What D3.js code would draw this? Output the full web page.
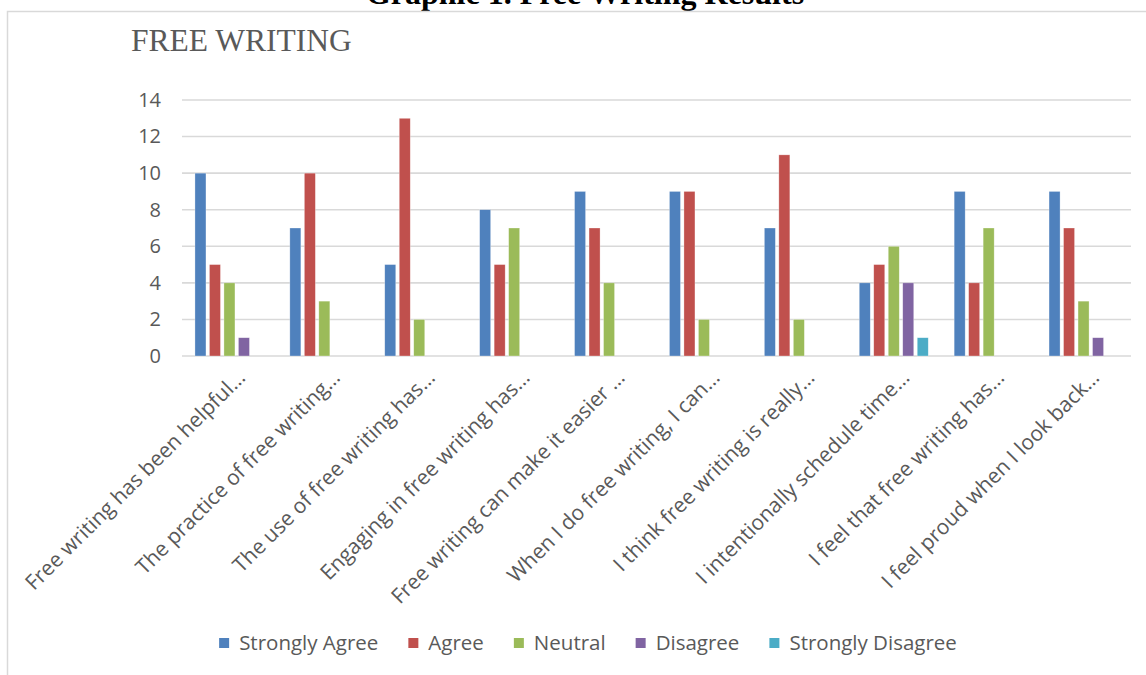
<!DOCTYPE html>
<html>
<head>
<meta charset="utf-8">
<script src="https://cdn.jsdelivr.net/npm/d3@7"></script>
<style>
  html, body { margin: 0; padding: 0; background: #fff; }
  svg { display: block; }
</style>
</head>
<body>
<svg id="chart" width="1146" height="675"></svg>
<script>
const categories = [
  "Free writing has been helpful…",
  "The practice of free writing…",
  "The use of free writing has…",
  "Engaging in free writing has…",
  "Free writing can make it easier …",
  "When I do free writing, I can…",
  "I think free writing is really…",
  "I intentionally schedule time…",
  "I feel that free writing has…",
  "I feel proud when I look back…"
];
const seriesNames = ["Strongly Agree", "Agree", "Neutral", "Disagree", "Strongly Disagree"];
const stronglyAgree    = [10, 7, 5, 8, 9, 9, 7, 4, 9, 9];
const agree            = [5, 10, 13, 5, 7, 9, 11, 5, 4, 7];
const neutral          = [4, 3, 2, 7, 4, 2, 2, 6, 7, 3];
const disagree         = [1, 0, 0, 0, 0, 0, 0, 4, 0, 1];
const stronglyDisagree = [0, 0, 0, 0, 0, 0, 0, 1, 0, 0];
const yTicks = [0, 2, 4, 6, 8, 10, 12, 14];
const colors = ["#4F81BD", "#C0504D", "#9BBB59", "#8064A2", "#4BACC6"];
const pageTitle = "Graphic 1. Free Writing Results";
const chartTitle = "FREE WRITING";

const seriesValues = [stronglyAgree, agree, neutral, disagree, stronglyDisagree];

const svg = d3.select("#chart");
const plot = { left: 182, right: 1131, top: 100, bottom: 356 };

// page caption (cut off at top, as in the reference)
svg.append("text")
  .attr("x", 585).attr("y", 4)
  .attr("text-anchor", "middle")
  .attr("font-family", "Liberation Serif, Times New Roman, serif")
  .attr("font-weight", "bold")
  .attr("font-size", 32)
  .attr("fill", "#000")
  .text(pageTitle);

// chart border
svg.append("rect")
  .attr("x", 7.5).attr("y", 11.5)
  .attr("width", 1150).attr("height", 700)
  .attr("fill", "#fff")
  .attr("stroke", "#d9d9d9")
  .attr("stroke-width", 1.5);

svg.append("text")
  .attr("x", 131).attr("y", 51)
  .attr("font-family", "Liberation Serif, Times New Roman, serif")
  .attr("font-size", 31.5)
  .attr("fill", "#595959")
  .text(chartTitle);

const y = d3.scaleLinear().domain([0, 14]).range([plot.bottom, plot.top]);
const x0 = d3.scaleBand().domain(categories).range([plot.left, plot.right]).padding(0);
const x1 = d3.scaleBand().domain(seriesNames).range([-34.5, 34.5]).paddingInner(0.24).paddingOuter(0);

// gridlines
svg.append("g").selectAll("line").data(yTicks).join("line")
  .attr("x1", plot.left).attr("x2", plot.right)
  .attr("y1", d => y(d)).attr("y2", d => y(d))
  .attr("stroke", "#d9d9d9").attr("stroke-width", 1.6);

// y axis labels
const yAxis = d3.axisLeft(y).tickValues(yTicks).tickSize(0).tickPadding(0);
const yg = svg.append("g").attr("transform", `translate(161,0)`).call(yAxis);
yg.select(".domain").remove();
yg.selectAll("text")
  .attr("font-family", "Open Sans, sans-serif")
  .attr("font-size", 20)
  .attr("fill", "#595959");

// bars
const groups = svg.append("g").selectAll("g").data(categories).join("g")
  .attr("transform", d => `translate(${x0(d) + x0.bandwidth() / 2},0)`);
groups.selectAll("rect")
  .data((c, i) => seriesNames.map((s, j) => ({ s, j, v: seriesValues[j][i] })).filter(d => d.v > 0))
  .join("rect")
  .attr("x", d => x1(d.s))
  .attr("width", x1.bandwidth())
  .attr("y", d => y(d.v))
  .attr("height", d => y(0) - y(d.v))
  .attr("fill", d => colors[d.j])
  .attr("stroke", "#ffffff").attr("stroke-opacity", 0.5).attr("stroke-width", 0.6);

// x axis labels
const xAxis = d3.axisBottom(x0).tickSize(0).tickPadding(0);
const xg = svg.append("g").attr("transform", `translate(0,${plot.bottom})`).call(xAxis);
xg.select(".domain").remove();
xg.selectAll(".tick text")
  .attr("font-family", "Open Sans, sans-serif")
  .attr("font-size", 21)
  .attr("fill", "#595959")
  .attr("text-anchor", "end")
  .attr("dy", 0)
  .attr("y", 0)
  .attr("transform", "translate(17,23) rotate(-45)");

// legend
const legend = svg.append("g");
const items = legend.selectAll("g").data(seriesNames).join("g");
items.append("rect").attr("width", 10).attr("height", 10).attr("y", -5)
  .attr("fill", (d, i) => colors[i]);
items.append("text").attr("x", 20).attr("dy", "0.35em")
  .attr("font-family", "Open Sans, sans-serif")
  .attr("font-size", 20.5)
  .attr("fill", "#595959")
  .text(d => d);
let cx = 0;
const pos = [];
items.each(function () {
  const w = d3.select(this).select("text").node().getComputedTextLength();
  pos.push(cx);
  cx += 20 + w + 30;
});
const total = cx - 30;
const startX = 588 - total / 2;
items.attr("transform", (d, i) => `translate(${startX + pos[i]},643)`);
</script>
</body>
</html>
